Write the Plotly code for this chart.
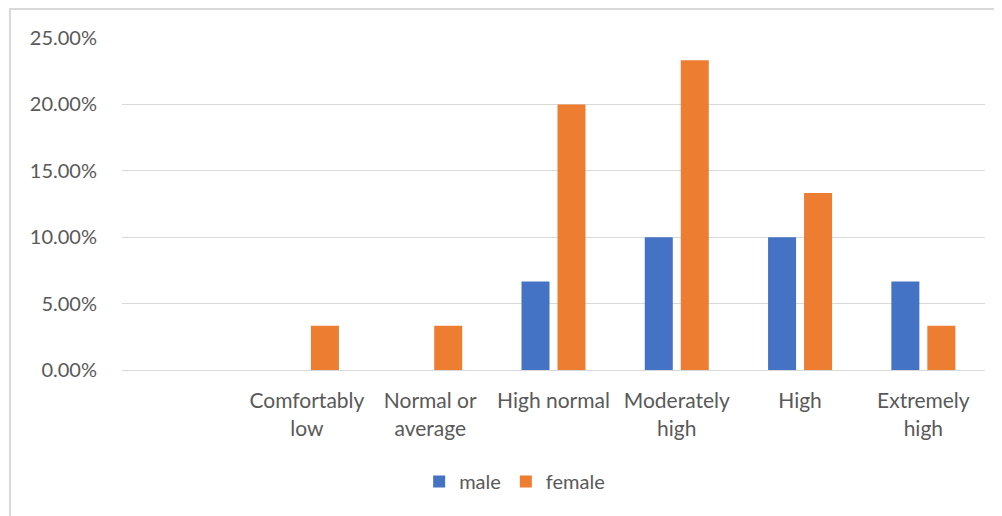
import plotly.graph_objects as go

categories = [" ", "Comfortably<br>low", "Normal or<br>average", "High normal",
              "Moderately<br>high", "High", "Extremely<br>high"]
male = [0, 0, 0, 0.0667, 0.10, 0.10, 0.0667]
female = [0, 0.0333, 0.0333, 0.20, 0.2333, 0.1333, 0.0333]
y_ticks = [0, 0.05, 0.10, 0.15, 0.20, 0.25]

FONT = "Lato, Open Sans, sans-serif"
GREY = "#595959"

# page body has an 8px default margin, so the figure is placed at (8, 8)
fig = go.Figure()
fig.add_trace(go.Bar(x=categories, y=male, name="male", marker_color="#4472C4",
                     marker_line_width=0))
fig.add_trace(go.Bar(x=categories, y=female, name="female", marker_color="#ED7D31",
                     marker_line_width=0))

fig.update_layout(
    width=994, height=508,
    margin=dict(l=114, r=17, t=30, b=146),
    paper_bgcolor="white", plot_bgcolor="white",
    barmode="group", bargap=0.416, bargroupgap=0.222,
    font=dict(family=FONT, size=20, color=GREY),
    legend=dict(orientation="h", x=0.455, xanchor="center", y=-0.336, yanchor="middle",
                font=dict(size=20, color=GREY), itemwidth=30),
    showlegend=True,
)
fig.update_xaxes(type="category", showgrid=False, showline=True, linecolor="#d9d9d9",
                 linewidth=1, ticks="", ticklabelstandoff=12,
                 tickfont=dict(size=21, color=GREY))
fig.update_yaxes(range=[0, 0.25], tickvals=y_ticks, tickformat=".2%", showgrid=True,
                 gridcolor="#d9d9d9", gridwidth=1, zeroline=False, showline=False,
                 ticks="", ticklabelstandoff=24, tickfont=dict(size=20, color=GREY))

fig.add_shape(type="rect", xref="paper", yref="paper",
              x0=(10 - 122) / 863, x1=(995 - 122) / 863,
              y0=(370 - 530) / 332, y1=(370 - 9) / 332,
              line=dict(color="#d9d9d9", width=2), fillcolor="rgba(0,0,0,0)", layer="below")

fig.write_html("out.html")
